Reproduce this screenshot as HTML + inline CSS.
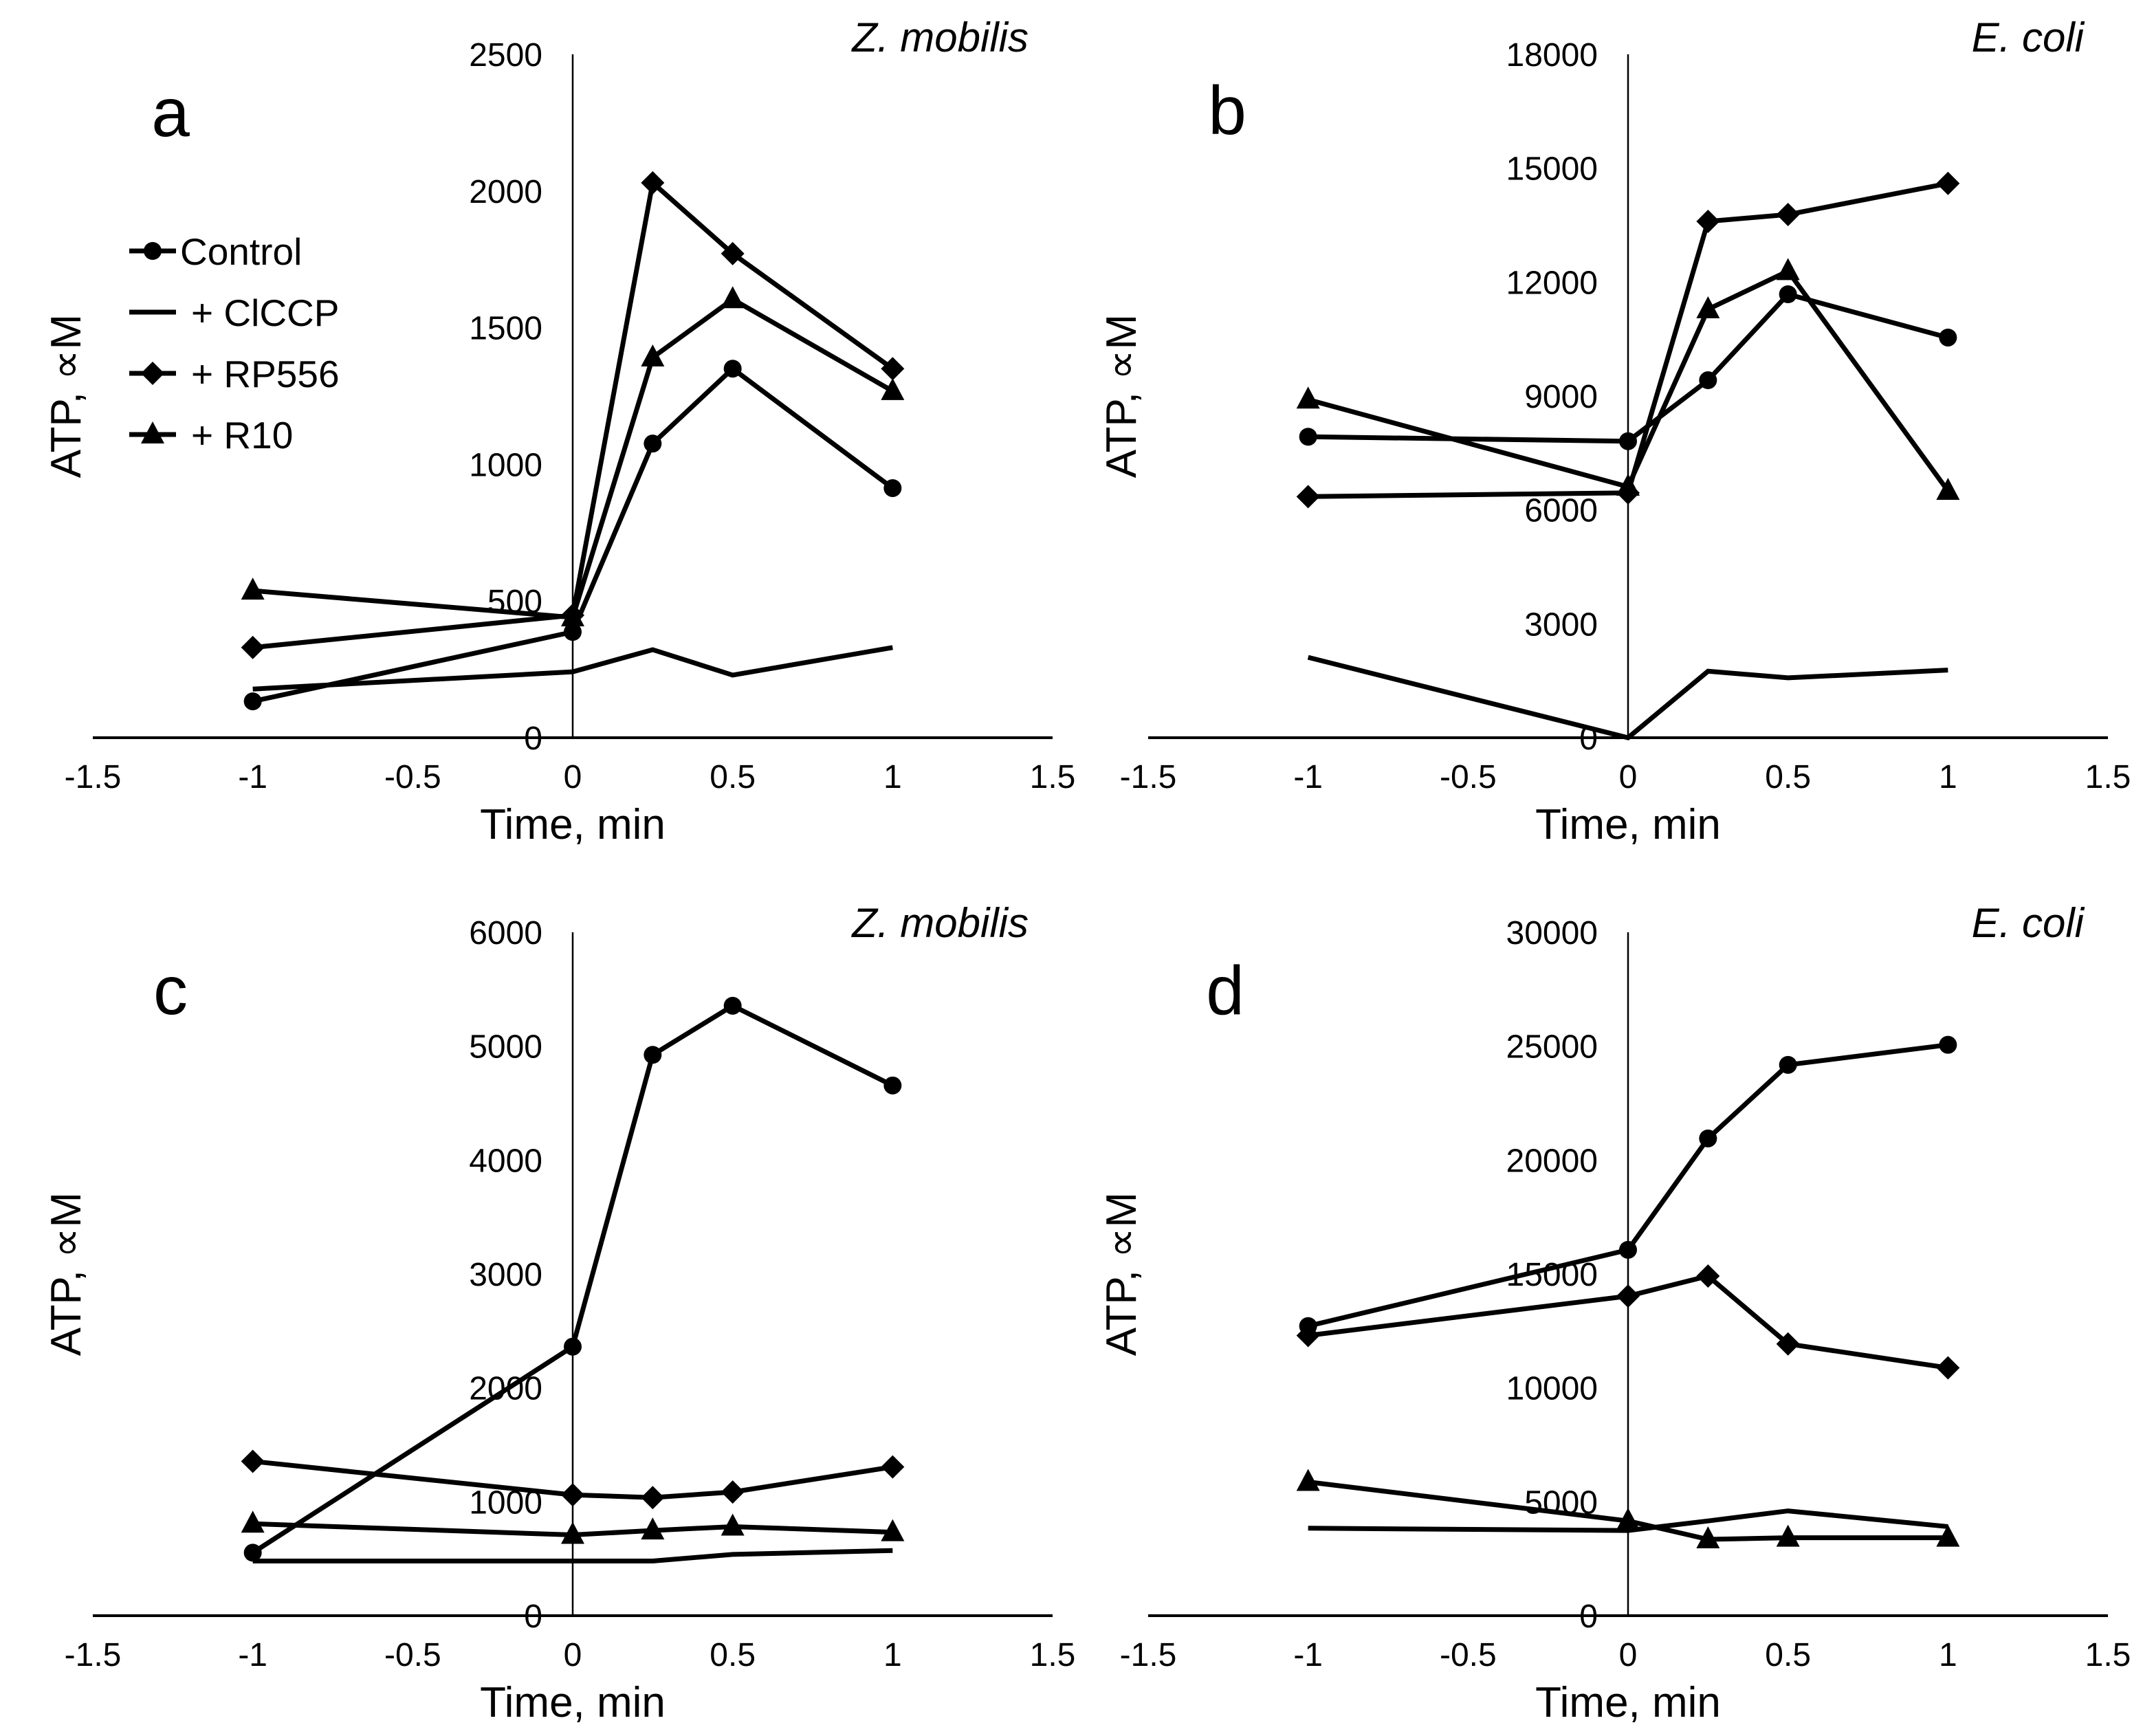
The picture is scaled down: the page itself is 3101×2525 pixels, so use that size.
<!DOCTYPE html>
<html><head><meta charset="utf-8"><style>
html,body{margin:0;padding:0;background:#fff;}
svg{display:block;font-family:"Liberation Sans",Arial,sans-serif;}
</style></head><body>
<svg id="fig" width="3101" height="2525" viewBox="0 0 3101 2525" xmlns="http://www.w3.org/2000/svg"></svg>
<script>
const xValues = [-1, 0, 0.25, 0.5, 1];
const xTicks = [-1.5, -1, -0.5, 0, 0.5, 1, 1.5];
const xTickLabels = ["-1.5","-1","-0.5","0","0.5","1","1.5"];
const seriesNames = ["Control", "+ ClCCP", "+ RP556", "+ R10"];

const aControl = [133, 387, 1076, 1350, 913];
const aClccp = [178, 241, 322, 229, 330];
const aRp556 = [330, 448, 2030, 1771, 1350];
const aR10 = [538, 440, 1391, 1604, 1268];
const aTicks = [0, 500, 1000, 1500, 2000, 2500];

const bControl = [7927, 7810, 9416, 11680, 10540];
const bClccp = [2117, 0, 1752, 1577, 1781];
const bRp556 = [6350, 6450, 13600, 13780, 14600];
const bR10 = [8905, 6610, 11285, 12290, 6500];
const bTicks = [0, 3000, 6000, 9000, 12000, 15000, 18000];

const cControl = [553, 2362, 4924, 5355, 4655];
const cClccp = [480, 480, 480, 538, 572];
const cRp556 = [1355, 1061, 1037, 1086, 1306];
const cR10 = [807, 709, 748, 782, 733];
const cTicks = [0, 1000, 2000, 3000, 4000, 5000, 6000];

const dControl = [12714, 16060, 20950, 24180, 25060];
const dClccp = [3840, 3740, 4160, 4600, 3910];
const dRp556 = [12300, 14030, 14910, 11930, 10880];
const dR10 = [5870, 4160, 3350, 3420, 3420];
const dTicks = [0, 5000, 10000, 15000, 20000, 25000, 30000];

const NS = "http://www.w3.org/2000/svg";
const svg = document.getElementById("fig");
function mk(tag, attrs, parent) {
  const e = document.createElementNS(NS, tag);
  for (const k in attrs) e.setAttribute(k, attrs[k]);
  (parent || svg).appendChild(e);
  return e;
}
function marker(g, kind, x, y) {
  let m;
  if (kind === "circle") m = mk("circle", {cx: x, cy: y, r: 13, fill: "#000"}, g);
  else if (kind === "diamond") m = mk("polygon", {points: `${x},${y-17} ${x+17},${y} ${x},${y+17} ${x-17},${y}`, fill: "#000"}, g);
  else if (kind === "triangle") m = mk("polygon", {points: `${x},${y-19} ${x+17},${y+13} ${x-17},${y+13}`, fill: "#000"}, g);
  if (m) {
    
    
  }
}

const panels = [
  {id: "a", x0: 135, x1: 1531, y0: 1073, y1: 79, max: 2500, ticks: aTicks, series: [aControl, aClccp, aRp556, aR10], species: "Z. mobilis", lx: 248, ly: 198, sy: 75, legend: true},
  {id: "b", x0: 1670, x1: 3066, y0: 1073, y1: 79, max: 18000, ticks: bTicks, series: [bControl, bClccp, bRp556, bR10], species: "E. coli", lx: 1785, ly: 195, sy: 75},
  {id: "c", x0: 135, x1: 1531, y0: 2350, y1: 1356, max: 6000, ticks: cTicks, series: [cControl, cClccp, cRp556, cR10], species: "Z. mobilis", lx: 248, ly: 1475, sy: 1363},
  {id: "d", x0: 1670, x1: 3066, y0: 2350, y1: 1356, max: 30000, ticks: dTicks, series: [dControl, dClccp, dRp556, dR10], species: "E. coli", lx: 1782, ly: 1475, sy: 1363}
];
const kinds = ["circle", null, "diamond", "triangle"];
const seriesKeys = ["control", "clccp", "rp556", "r10"];

panels.forEach(p => {
  const g = mk("g", {});
  
  
  const sx = v => p.x0 + (v + 1.5) / 3 * (p.x1 - p.x0);
  const sy = v => p.y0 - v / p.max * (p.y0 - p.y1);
  const zx = sx(0);
  const xa = mk("line", {x1: p.x0, y1: p.y0, x2: p.x1, y2: p.y0, stroke: "#000", "stroke-width": 4}, g);
  
  
  const ya = mk("line", {x1: zx, y1: p.y1, x2: zx, y2: p.y0, stroke: "#000", "stroke-width": 2.5}, g);
  
  
  p.ticks.forEach(t => {
    const tl = mk("text", {x: zx - 44, y: sy(t) + 17, "font-size": 48, "text-anchor": "end"}, g);
    tl.textContent = String(t);
    
    
  });
  xTicks.forEach((t, i) => {
    const tl = mk("text", {x: sx(t), y: p.y0 + 73, "font-size": 48, "text-anchor": "middle"}, g);
    tl.textContent = xTickLabels[i];
    
    
  });
  const xt = mk("text", {x: zx, y: p.y0 + 147, "font-size": 62, "text-anchor": "middle"}, g);
  xt.textContent = "Time, min";
  
  
  const ytx = p.x0 - 18, yty = (p.y0 + p.y1) / 2;
  const yt = mk("text", {x: ytx, y: yty, "font-size": 62, "text-anchor": "middle", transform: `rotate(-90 ${ytx} ${yty})`}, g);
  yt.textContent = "ATP, ∝M";
  
  
  const pl = mk("text", {x: p.lx, y: p.ly, "font-size": 100, "text-anchor": "middle"}, g);
  pl.textContent = p.id;
  
  
  const sp = mk("text", {x: p.x1 - 35, y: p.sy, "font-size": 60, "font-style": "italic", "text-anchor": "end"}, g);
  sp.textContent = p.species;
  
  
  p.series.forEach((vals, si) => {
    const sg = mk("g", {}, g);
    
    
    const pts = vals.map((v, i) => `${sx(xValues[i])},${sy(v)}`).join(" ");
    const ln = mk("polyline", {points: pts, fill: "none", stroke: "#000", "stroke-width": 7, "stroke-linejoin": "miter"}, sg);
    
    
    if (kinds[si]) vals.forEach((v, i) => marker(sg, kinds[si], sx(xValues[i]), sy(v)));
  });
  if (p.legend) {
    const lg = mk("g", {}, g);
    
    
    const ys = [365, 454, 543, 632];
    seriesNames.forEach((n, i) => {
      const eg = mk("g", {}, lg);
      
      
      mk("line", {x1: 188, y1: ys[i], x2: 256, y2: ys[i], stroke: "#000", "stroke-width": 7}, eg);
      if (kinds[i]) marker(eg, kinds[i], 222, ys[i]);
      const t = mk("text", {x: i === 0 ? 262 : 278, y: ys[i] + 20, "font-size": 55}, eg);
      t.textContent = n;
    });
  }
});
</script>
</body></html>
